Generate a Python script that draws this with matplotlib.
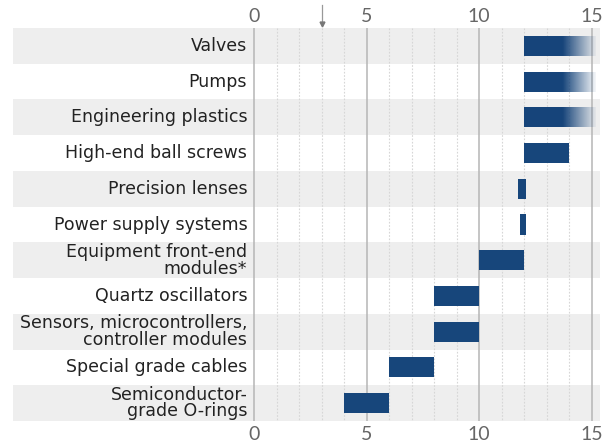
import numpy as np
import matplotlib.pyplot as plt
from matplotlib.colors import LinearSegmentedColormap
from matplotlib.patches import Rectangle

# ---------------------------------------------------------
# Data: ranges per component
# ---------------------------------------------------------
labels = [
    "Valves",
    "Pumps",
    "Engineering plastics",
    "High-end ball screws",
    "Precision lenses",
    "Power supply systems",
    "Equipment front-end\nmodules*",
    "Quartz oscillators",
    "Sensors, microcontrollers,\ncontroller modules",
    "Special grade cables",
    "Semiconductor-\ngrade O-rings",
]
low = [12, 12, 12, 12, 11.75, 11.8, 10, 8, 8, 6, 4]
high = [15.2, 15.2, 15.2, 14, 12.1, 12.1, 12, 10, 10, 8, 6]
open_ended = [True, True, True, False, False, False, False, False, False, False, False]
marker_x = 3
ticks = [0, 5, 10, 15]

bar_color = "#17467b"
band_color = "#eeeeee"

# ---------------------------------------------------------
# Layout
# ---------------------------------------------------------
W, H = 611, 443
fig = plt.figure(figsize=(W / 100, H / 100), dpi=100)
ax_left, ax_right = 13, 600
ax_top, ax_bot = 28, 421
ax = fig.add_axes([ax_left / W, 1 - ax_bot / H, (ax_right - ax_left) / W, (ax_bot - ax_top) / H])

px_per_unit = 22.5
x0_px = 254
xmin = (ax_left - x0_px) / px_per_unit
xmax = (ax_right - x0_px) / px_per_unit
n = len(labels)
ax.set_xlim(xmin, xmax)
ax.set_ylim(n - 0.5, -0.5)
ax.axis("off")

# alternating row bands
for i in range(n):
    if i % 2 == 0:
        ax.add_patch(Rectangle((xmin, i - 0.5), xmax - xmin, 1, color=band_color, lw=0, zorder=0))

# grid lines
for v in range(0, 16):
    if v in ticks:
        ax.vlines(v, -0.5, n - 0.5, color="#b5b5b5", lw=1.1, zorder=1)
    else:
        ax.vlines(v, -0.5, n - 0.5, color="#d6d6d6", lw=0.8, linestyles=(0, (1.5, 1.5)), zorder=1)

# bars (the first three fade out past 15)
bh = 0.56
fade = LinearSegmentedColormap.from_list("fade", [(0.09, 0.27, 0.48, 1.0), (0.09, 0.27, 0.48, 0.05)])
for i in range(n):
    if open_ended[i]:
        grad = np.concatenate([np.zeros(75), np.linspace(0, 1, 65)])[None, :]
        im = ax.imshow(grad, cmap=fade, extent=(low[i], high[i], i + bh / 2, i - bh / 2),
                       aspect="auto", zorder=3, interpolation="bilinear")
        clip = Rectangle((low[i], i - bh / 2), high[i] - low[i], bh, transform=ax.transData)
        im.set_clip_path(clip)
    else:
        ax.add_patch(Rectangle((low[i], i - bh / 2), high[i] - low[i], bh,
                               color=bar_color, lw=0, zorder=3))

# row labels
for i, lab in enumerate(labels):
    ax.text(-0.3, i, lab, ha="right", va="center", fontsize=12.5, family="DejaVu Sans",
            color="#222222", linespacing=0.9, zorder=4)

# tick labels top and bottom
for t in ticks:
    for y in (16, 434):
        fig.text((x0_px + t * px_per_unit) / W, 1 - y / H, str(t), ha="center", va="center",
                 fontsize=14, family="Lato", color="#666666")

# small pointer at x=3
mx = (x0_px + marker_x * px_per_unit) / W
fig.add_artist(plt.Line2D([mx, mx], [1 - 5 / H, 1 - 24 / H], color="#999999", lw=0.9))
fig.add_artist(plt.Line2D([mx], [1 - 24 / H], marker="v", markersize=3.5, color="#777777", lw=0))

fig.savefig("out.png", dpi=100)
